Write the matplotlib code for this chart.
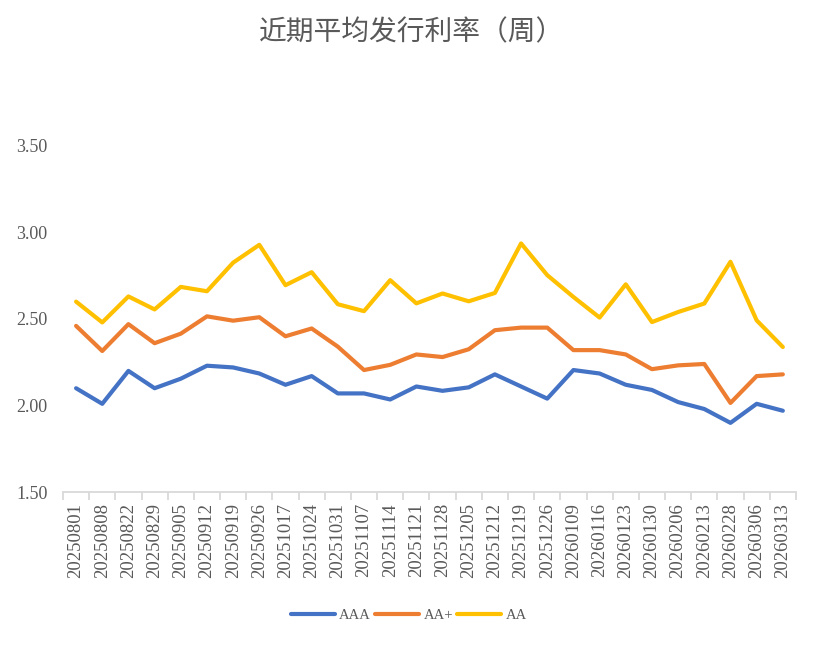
import numpy as np
import matplotlib.pyplot as plt

plt.rcParams['font.family'] = ['Liberation Serif', 'Noto Sans CJK SC', 'DejaVu Sans']

# ── 数据 ─────────────────────────────────────────────────────────────────────
DATES = ["20250801", "20250808", "20250822", "20250829", "20250905", "20250912",
         "20250919", "20250926", "20251017", "20251024", "20251031", "20251107",
         "20251114", "20251121", "20251128", "20251205", "20251212", "20251219",
         "20251226", "20260109", "20260116", "20260123", "20260130", "20260206",
         "20260213", "20260228", "20260306", "20260313"]

AAA = [2.10, 2.01, 2.20, 2.10, 2.155, 2.23, 2.22, 2.185, 2.12, 2.17, 2.07, 2.07,
       2.035, 2.11, 2.085, 2.105, 2.18, 2.11, 2.04, 2.205, 2.185, 2.12, 2.09,
       2.02, 1.98, 1.90, 2.01, 1.97]
AA_PLUS = [2.46, 2.315, 2.47, 2.36, 2.415, 2.515, 2.49, 2.51, 2.40, 2.445, 2.34,
           2.205, 2.235, 2.295, 2.28, 2.325, 2.435, 2.45, 2.45, 2.32, 2.32, 2.295,
           2.21, 2.232, 2.24, 2.015, 2.17, 2.18]
AA = [2.60, 2.48, 2.63, 2.555, 2.685, 2.66, 2.825, 2.928, 2.695, 2.77, 2.585,
      2.545, 2.724, 2.59, 2.647, 2.602, 2.65, 2.936, 2.753, 2.627, 2.508, 2.70,
      2.482, 2.54, 2.589, 2.83, 2.492, 2.338]

SERIES = [("AAA", AAA, "#4472C4"), ("AA+", AA_PLUS, "#ED7D31"), ("AA", AA, "#FFC000")]
GREY = "#595959"

fig = plt.figure(figsize=(8.18, 6.45), dpi=100)
ax = fig.add_axes([0.077, 0.237, 0.896, 0.537])

x = np.arange(len(DATES))
for name, vals, col in SERIES:
    ax.plot(x, vals, color=col, linewidth=3.0, solid_capstyle="round",
            solid_joinstyle="round", label=name)

ax.set_xlim(-0.5, len(DATES) - 0.5)
ax.set_ylim(1.5, 3.5)
yt = [1.5, 2.0, 2.5, 3.0, 3.5]
ax.set_yticks(yt)
ax.set_yticklabels([f"{v:.2f}" for v in yt], fontsize=13, color=GREY)
ax.tick_params(axis="y", length=0, pad=11)

# x 轴：类别标签居中，刻度线在类别边界
ax.set_xticks(x)
ax.set_xticklabels(DATES, rotation=90, fontsize=13.5, color=GREY)
ax.set_xticks(np.arange(-0.5, len(DATES), 1.0), minor=True)
ax.tick_params(axis="x", which="major", length=0, pad=8)
ax.tick_params(axis="x", which="minor", length=6, width=1.3, color="#D9D9D9")

for side in ["top", "right", "left"]:
    ax.spines[side].set_visible(False)
ax.spines["bottom"].set_color("#D9D9D9")
ax.spines["bottom"].set_linewidth(1.3)

fig.text(0.503, 0.950, "近期平均发行利率（周）", ha="center", va="center",
         fontsize=20, color=GREY, family=["Noto Sans CJK SC", "DejaVu Sans"])

fig.legend(loc="center", bbox_to_anchor=(0.5, 0.046), ncol=3, frameon=False,
           fontsize=10.5, handlelength=3.0, handletextpad=0.3, columnspacing=0.3,
           labelcolor=GREY)

fig.savefig("out.png", dpi=100)
